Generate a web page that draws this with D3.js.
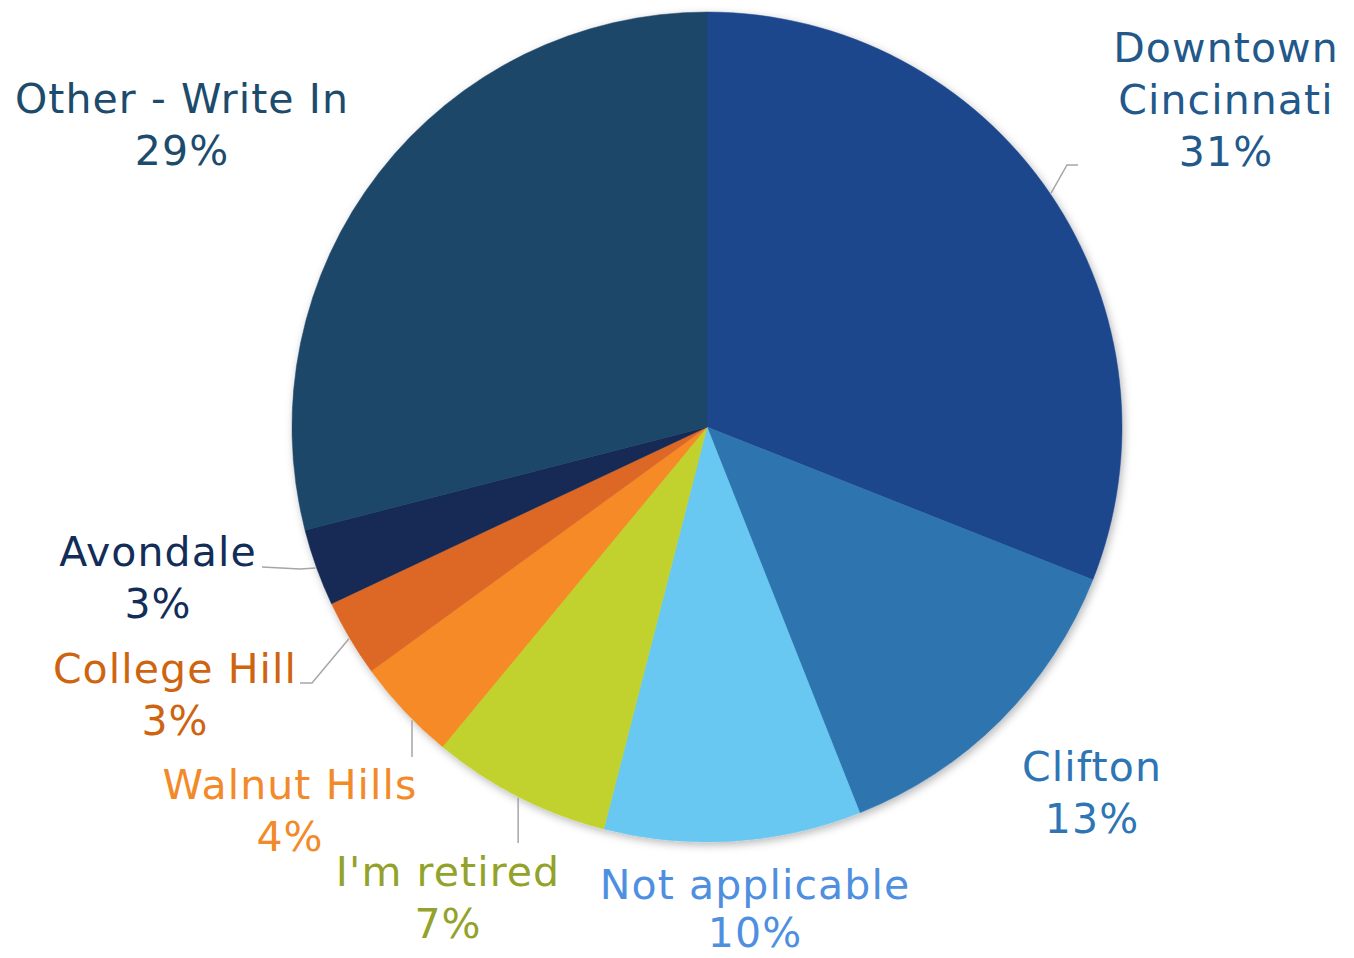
<!DOCTYPE html>
<html>
<head>
<meta charset="utf-8">
<script src="https://cdn.jsdelivr.net/npm/d3@7"></script>
<style>
  html, body { margin: 0; padding: 0; background: #ffffff; }
  svg { display: block; }
  text { font-family: "DejaVu Sans", "Open Sans", sans-serif; }
</style>
</head>
<body>
<svg id="chart" width="1354" height="958"></svg>
<script>
// Where respondents work — share of responses by neighbourhood
const categories = ["Downtown Cincinnati", "Clifton", "Not applicable", "I'm retired",
                    "Walnut Hills", "College Hill", "Avondale", "Other - Write In"];
const shares = [31, 13, 10, 7, 4, 3, 3, 29];
const sliceColors = ["#1c468c", "#2e75b0", "#69c8f2", "#c1d22f",
                     "#f58a25", "#dd6828", "#122a55", "#1e4669"];
const labelColors = ["#22598a", "#2e75b5", "#4f8fe0", "#93a22a",
                     "#f28a2a", "#cf6410", "#132d59", "#1d4b6c"];

// Label placement: text lines, centre x, first baseline y, optional leader line
const labelLayout = {
  "Downtown Cincinnati": { lines: ["Downtown", "Cincinnati"], x: 1226, y: 62, leader: [[1067, 165], [1078, 165]] },
  "Clifton":             { lines: ["Clifton"], x: 1092, y: 781 },
  "Not applicable":      { lines: ["Not applicable"], x: 755, y: 899, gap: 48 },
  "I'm retired":         { lines: ["I'm retired"], x: 448, y: 886, leader: "down", to: 843 },
  "Walnut Hills":        { lines: ["Walnut Hills"], x: 290, y: 799, leader: "down", atX: 412, to: 757 },
  "College Hill":        { lines: ["College Hill"], x: 175, y: 683, leader: [[312, 683], [300, 683]] },
  "Avondale":            { lines: ["Avondale"], x: 158, y: 566, leader: [[300, 569], [262, 567]] },
  "Other - Write In":    { lines: ["Other - Write In"], x: 182, y: 113 }
};

const data = categories.map((c, i) => ({ name: c, value: shares[i], color: sliceColors[i], labelColor: labelColors[i] }));

const svg = d3.select("#chart");
const cx = 707, cy = 427, radius = 415;
const lineHeight = 52;

const defs = svg.append("defs");
const shadow = defs.append("filter").attr("id", "pieShadow")
  .attr("x", "-10%").attr("y", "-10%").attr("width", "120%").attr("height", "120%");
shadow.append("feDropShadow")
  .attr("dx", 2).attr("dy", 3).attr("stdDeviation", 4)
  .attr("flood-color", "#000").attr("flood-opacity", 0.28);

const pie = d3.pie().value(d => d.value).sort(null).startAngle(0).endAngle(2 * Math.PI);
const arcs = pie(data);
const arc = d3.arc().innerRadius(0).outerRadius(radius);

const g = svg.append("g").attr("transform", `translate(${cx},${cy})`);

g.append("g").attr("filter", "url(#pieShadow)")
  .selectAll("path")
  .data(arcs)
  .join("path")
  .attr("d", arc)
  .attr("fill", d => d.data.color)
  .attr("stroke", d => d.data.color)
  .attr("stroke-width", 0.5);

// Leader lines start on the rim at each slice's middle angle
const rimPoint = (d, r) => {
  const a = (d.startAngle + d.endAngle) / 2;
  return [cx + r * Math.sin(a), cy - r * Math.cos(a)];
};

const leaders = svg.append("g").attr("fill", "none").attr("stroke", "#a6a6a6").attr("stroke-width", 1.5);
arcs.forEach(d => {
  const L = labelLayout[d.data.name];
  if (!L.leader) return;
  let start = rimPoint(d, radius + 1);
  if (L.atX !== undefined) {
    // point on the lower rim directly above the label
    const dx = L.atX - cx;
    start = [L.atX, cy + Math.sqrt((radius + 1) ** 2 - dx * dx)];
  }
  const pts = L.leader === "down" ? [start, [start[0], L.to]] : [start, ...L.leader];
  leaders.append("path").attr("d", d3.line()(pts));
});

// Category name and percentage
const labels = svg.append("g");
arcs.forEach(d => {
  const L = labelLayout[d.data.name];
  const t = labels.append("text")
    .attr("x", L.x).attr("y", L.y)
    .attr("text-anchor", "middle")
    .attr("font-size", 41)
    .attr("letter-spacing", 1.1)
    .attr("fill", d.data.labelColor);
  const lines = [...L.lines, d3.format(".0%")(d.data.value / 100)];
  lines.forEach((s, i) => {
    t.append("tspan").attr("x", L.x).attr("dy", i === 0 ? 0 : (L.gap || lineHeight)).text(s);
  });
});
</script>
</body>
</html>
